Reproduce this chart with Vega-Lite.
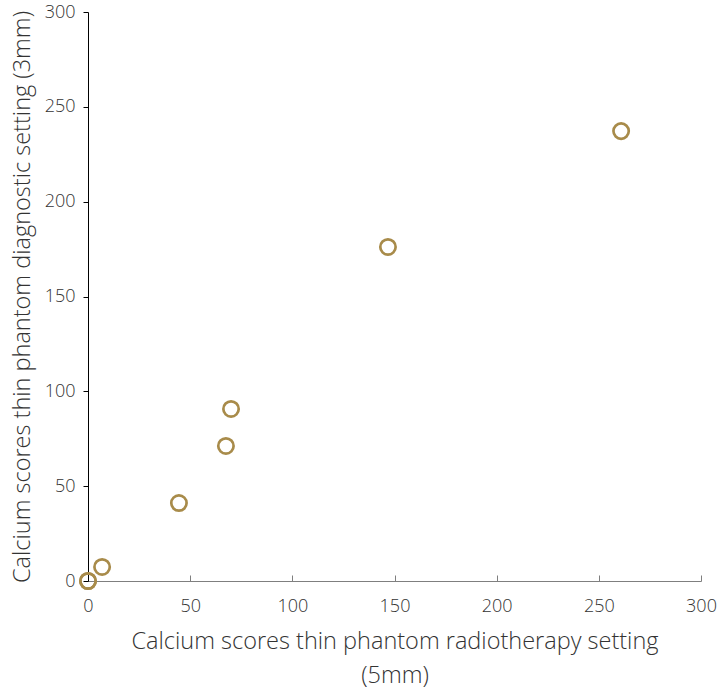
{
  "$schema": "https://vega.github.io/schema/vega-lite/v6.json",
  "width": 613,
  "height": 569,
  "autosize": "none",
  "padding": {"left": 88, "top": 12, "right": 18, "bottom": 108},
  "background": "white",
  "config": {
    "view": {"stroke": null},
    "font": "Open Sans",
    "axis": {"grid": false, "labelFont": "Open Sans", "titleFont": "Open Sans", "labelColor": "#333333", "titleColor": "#333333", "labelFontSize": 18, "titleFontSize": 23.5, "titleFontWeight": 300, "labelFontWeight": 300}
  },
  "data": {"values": [
    {"x": 0, "y": 0},
    {"x": 0, "y": 0},
    {"x": 6.9, "y": 7.4},
    {"x": 44.5, "y": 41.1},
    {"x": 67.5, "y": 71.2},
    {"x": 70.0, "y": 90.7},
    {"x": 146.8, "y": 176.1},
    {"x": 260.9, "y": 237.2}
  ]},
  "mark": {"type": "point", "shape": "circle", "filled": false, "color": "#A88B4A", "strokeWidth": 2.7, "size": 235, "opacity": 1},
  "encoding": {
    "x": {"field": "x", "type": "quantitative", "scale": {"domain": [0, 300], "nice": false, "zero": false},
      "axis": {"values": [0, 50, 100, 150, 200, 250, 300], "title": ["Calcium scores thin phantom radiotherapy setting", "(5mm)"], "titleLineHeight": 34, "titlePadding": 14, "domainColor": "#7f7f7f", "tickColor": "#7f7f7f", "tickSize": -6, "labelPadding": 22, "labelFlush": false}},
    "y": {"field": "y", "type": "quantitative", "scale": {"domain": [0, 300], "nice": false, "zero": false},
      "axis": {"values": [0, 50, 100, 150, 200, 250, 300], "title": "Calcium scores thin phantom diagnostic setting (3mm)", "titlePadding": 10, "domainColor": "#000000", "tickColor": "#000000", "tickSize": 5, "labelPadding": 8, "labelFlush": false}}
  }
}
